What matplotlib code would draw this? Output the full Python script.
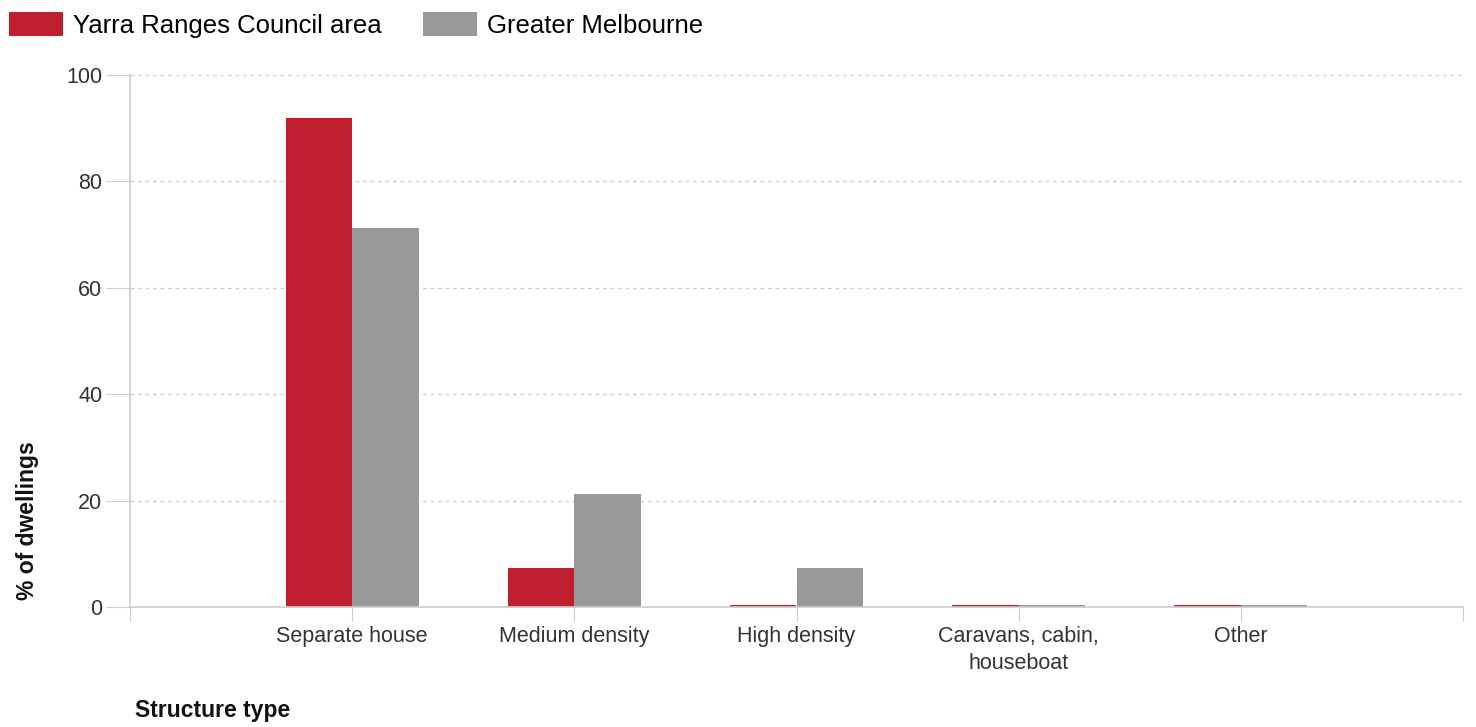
import matplotlib
matplotlib.use("Agg")
from matplotlib import pyplot as plt
import numpy as np

plt.rcParams['font.family'] = ['Liberation Sans', 'DejaVu Sans']

categories = ["Separate house", "Medium density", "High density", "Caravans, cabin,\nhouseboat", "Other"]
yarra = [91.9, 7.3, 0.4, 0.4, 0.4]
melbourne = [71.2, 21.2, 7.3, 0.3, 0.3]
series_names = ["Yarra Ranges Council area", "Greater Melbourne"]
yticks = [0, 20, 40, 60, 80, 100]

red = "#BE1E2D"
grey = "#999999"
axis_col = "#CCCCCC"

fig = plt.figure(figsize=(14.76, 7.27), dpi=100)
ax = fig.add_axes([130/1476, 1-607/727, (1463-130)/1476, (607-75)/727])

x = np.arange(len(categories))
w = 0.3
b1 = ax.bar(x - w/2, yarra, w, color=red, label=series_names[0])
b2 = ax.bar(x + w/2, melbourne, w, color=grey, label=series_names[1])

ax.set_xlim(-1, len(categories))
ax.set_ylim(0, 100)
ax.set_yticks(yticks)
ax.set_yticklabels([str(v) for v in yticks], fontsize=15.5, color="#333333")
ax.yaxis.grid(True, linestyle=(0, (3, 3)), color="#CCCCCC", linewidth=0.9)
ax.set_axisbelow(True)

ax.set_xticks(list(range(-1, len(categories) + 1)))
ax.set_xticklabels([""] + categories + [""], fontsize=15.5, color="#333333",
                   linespacing=1.35)
ax.tick_params(axis='x', length=10, color=axis_col, pad=4)
ax.tick_params(axis='y', length=17, color=axis_col, pad=3)

for s in ["top", "right"]:
    ax.spines[s].set_visible(False)
for s in ["left", "bottom"]:
    ax.spines[s].set_color(axis_col)
    ax.spines[s].set_linewidth(1.2)

fig.text(28/1476, 1-600/727, "% of dwellings", rotation=90, fontsize=16.5,
         fontweight="bold", ha="center", va="bottom", color="#111111")
fig.text(135/1476, 1-711/727, "Structure type", fontsize=16.5,
         fontweight="bold", ha="left", va="center", color="#111111")

fig.legend(handles=[b1, b2], loc="upper left", bbox_to_anchor=(-0.002, 1.0),
           ncol=2, frameon=False, fontsize=18.5, handlelength=2.1, handleheight=1.1,
           handletextpad=0.4, columnspacing=1.6, borderaxespad=0.0,
           borderpad=0.45)

fig.savefig("out.png", dpi=100)
